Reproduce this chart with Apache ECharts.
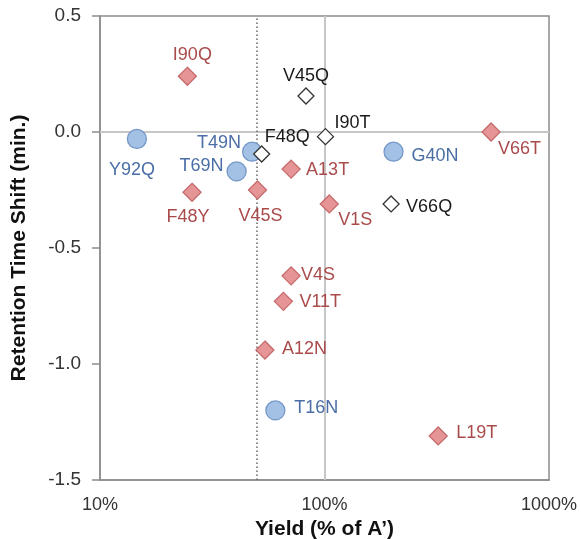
<!DOCTYPE html>
<html>
<head>
<meta charset="utf-8">
<script src="https://cdn.jsdelivr.net/npm/echarts@6/dist/echarts.min.js"></script>
<style>
  html, body { margin: 0; padding: 0; background: #fff; }
  #chart { width: 581px; height: 539px; }
</style>
</head>
<body>
<div id="chart"></div>
<script>
// Mutants with a clear destabilising effect (red diamonds)
const redNames = ['I90Q', 'F48Y', 'V45S', 'A13T', 'V66T', 'V1S', 'V4S', 'V11T', 'A12N', 'L19T'];
const redYield = [24.5, 25.7, 50.3, 71, 552, 105, 71, 65.6, 54.3, 321];
const redShift = [0.24, -0.26, -0.25, -0.16, 0.0, -0.31, -0.62, -0.73, -0.94, -1.31];

// Glycosylation-site mutants (blue circles)
const blueNames = ['Y92Q', 'T49N', 'T69N', 'G40N', 'T16N'];
const blueYield = [14.6, 47.6, 40.6, 203, 60.4];
const blueShift = [-0.03, -0.085, -0.17, -0.085, -1.2];

// Other mutants (open diamonds)
const openNames = ['V45Q', 'F48Q', 'I90T', 'V66Q'];
const openYield = [82.7, 52.5, 101, 198];
const openShift = [0.155, -0.095, -0.02, -0.31];

// Axis ticks
const xTicks = [10, 100, 1000];
const yTicks = [-1.5, -1.0, -0.5, 0.0, 0.5];

const FONT = '"Liberation Sans", Arial, Helvetica, sans-serif';

// Label anchor relative to each marker centre: [align, dx, dy]
const labelPlace = {
  I90Q: ['center', 5, -21], Y92Q: ['center', -5, 31], T49N: ['right', -11, -9],
  T69N: ['right', -13, -5], F48Q: ['left', 3, -17], F48Y: ['center', -4, 25],
  V45S: ['center', 3, 26], A13T: ['left', 15, 1], V45Q: ['center', 0, -20],
  I90T: ['left', 9, -14], G40N: ['left', 18, 4], V66T: ['left', 7, 17],
  V1S: ['left', 9, 16], V66Q: ['left', 15, 3], V4S: ['left', 10, -1],
  V11T: ['left', 16, 1], A12N: ['left', 17, -1], T16N: ['left', 19, -2],
  L19T: ['left', 18, -3]
};

function buildPoints(names, xs, ys) {
  return names.map((n, i) => {
    const p = labelPlace[n];
    return {
      name: n,
      value: [xs[i], ys[i]],
      label: { align: p[0], offset: [p[1], p[2]] }
    };
  });
}

function pointSeries(names, xs, ys, symbol, size, fill, stroke, textColor) {
  return {
    type: 'scatter',
    symbol: symbol,
    symbolSize: size,
    z: 5,
    itemStyle: { color: fill, borderColor: stroke, borderWidth: 1.3, opacity: 1 },
    label: {
      show: true,
      position: ['50%', '50%'],
      verticalAlign: 'middle',
      formatter: '{b}',
      color: textColor,
      fontFamily: FONT,
      fontSize: 18
    },
    emphasis: { disabled: true },
    data: buildPoints(names, xs, ys)
  };
}

const chart = echarts.init(document.getElementById('chart'), null, { renderer: 'canvas' });

chart.setOption({
  animation: false,
  backgroundColor: '#ffffff',
  grid: {
    left: 100, right: 32, top: 16, bottom: 59,
    outerBoundsMode: 'none',
    containLabel: false,
    show: true, borderColor: '#8c8c8c', borderWidth: 1.5, backgroundColor: 'transparent'
  },
  xAxis: {
    type: 'log',
    logBase: 10,
    min: xTicks[0],
    max: xTicks[xTicks.length - 1],
    name: 'Yield (% of A’)',
    nameLocation: 'middle',
    nameGap: 38,
    nameTextStyle: { fontFamily: FONT, fontSize: 21, fontWeight: 'bold', color: '#111' },
    axisLine: { onZero: false, lineStyle: { color: '#8c8c8c', width: 1.5 } },
    axisTick: { show: false },
    minorTick: { show: false },
    splitLine: { show: false },
    axisLabel: {
      margin: 16, color: '#333', fontFamily: FONT, fontSize: 18,
      formatter: v => (xTicks.indexOf(Math.round(v)) >= 0 ? Math.round(v) + '%' : '')
    }
  },
  yAxis: {
    type: 'value',
    min: yTicks[0],
    max: yTicks[yTicks.length - 1],
    interval: 0.5,
    name: 'Retention Time Shift (min.)',
    nameLocation: 'middle',
    nameGap: 70,
    nameTextStyle: { fontFamily: FONT, fontSize: 21, fontWeight: 'bold', color: '#111' },
    axisLine: { show: true, onZero: false, lineStyle: { color: '#8c8c8c', width: 1.5 } },
    axisTick: { show: true, inside: false, length: 8, lineStyle: { color: '#8c8c8c', width: 1.5 } },
    splitLine: { show: false },
    axisLabel: {
      margin: 19, color: '#333', fontFamily: FONT, fontSize: 19,
      formatter: v => v.toFixed(1)
    }
  },
  series: [
    {
      // reference lines: 100 % yield, zero shift, and the 50 % cut-off
      type: 'scatter',
      data: [],
      z: 1,
      silent: true,
      markLine: {
        silent: true,
        symbol: 'none',
        label: { show: false },
        animation: false,
        data: [
          { xAxis: 100, lineStyle: { color: '#c6c6c6', width: 2, type: 'solid' } },
          { yAxis: 0, lineStyle: { color: '#c6c6c6', width: 2, type: 'solid' } },
          { xAxis: 50, lineStyle: { color: '#666', width: 1.5, type: [1.5, 2.5] } }
        ]
      }
    },
    pointSeries(redNames, redYield, redShift, 'diamond', 18, '#e69597', '#c66a6c', '#a94a4b'),
    pointSeries(blueNames, blueYield, blueShift, 'circle', 19, '#a3c1e5', '#7598c8', '#4a6ea5'),
    pointSeries(openNames, openYield, openShift, 'diamond', 16, '#ffffff', '#333333', '#1a1a1a')
  ]
});
</script>
</body>
</html>
